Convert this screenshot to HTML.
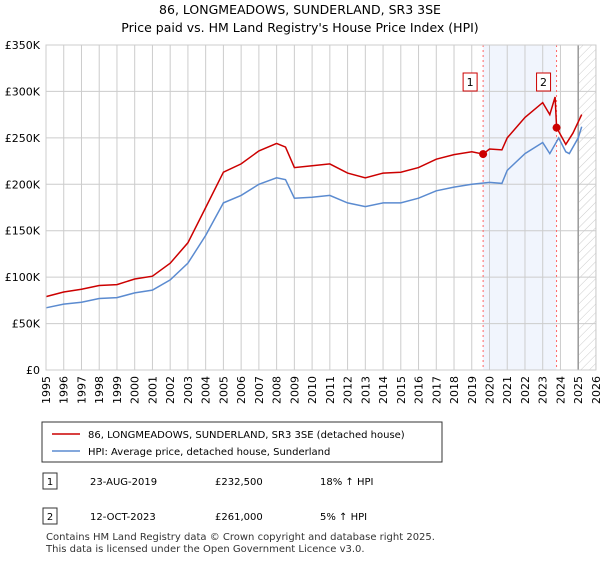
<!DOCTYPE html>
<html><head><meta charset="utf-8"><style>
body{margin:0;background:#fff;font-family:"Liberation Sans","DejaVu Sans",sans-serif;}
svg text{font-family:"DejaVu Sans","Liberation Sans",sans-serif;}
</style></head><body>
<svg width="600" height="560" xmlns="http://www.w3.org/2000/svg">
<defs><pattern id="hatch" width="6" height="6" patternUnits="userSpaceOnUse" patternTransform="rotate(45)"><line x1="0" y1="0" x2="0" y2="6" stroke="#ccc" stroke-width="1"/></pattern></defs>
<text x="300" y="14" text-anchor="middle" font-size="12.5">86, LONGMEADOWS, SUNDERLAND, SR3 3SE</text>
<text x="300" y="32" text-anchor="middle" font-size="12.5">Price paid vs. HM Land Registry's House Price Index (HPI)</text>
<g id="plot"></g>
<g id="legend">
<rect x="42" y="422" width="400" height="40" fill="#fff" stroke="#333"/>
<line x1="52" y1="434" x2="80" y2="434" stroke="#cc0000" stroke-width="1.5"/>
<text x="88" y="438" font-size="10">86, LONGMEADOWS, SUNDERLAND, SR3 3SE (detached house)</text>
<line x1="52" y1="451" x2="80" y2="451" stroke="#5b8bd0" stroke-width="1.5"/>
<text x="88" y="455" font-size="10">HPI: Average price, detached house, Sunderland</text>
</g>
<g font-size="10">
<rect x="43" y="473" width="14" height="16" fill="#fff" stroke="#333"/><text x="50" y="485" text-anchor="middle">1</text>
<text x="90" y="485">23-AUG-2019</text><text x="215" y="485">£232,500</text><text x="320" y="485">18% ↑ HPI</text>
<rect x="43" y="508" width="14" height="16" fill="#fff" stroke="#333"/><text x="50" y="520" text-anchor="middle">2</text>
<text x="90" y="520">12-OCT-2023</text><text x="215" y="520">£261,000</text><text x="320" y="520">5% ↑ HPI</text>
</g>
<text x="46" y="540" font-size="10" fill="#333">Contains HM Land Registry data © Crown copyright and database right 2025.</text>
<text x="46" y="552" font-size="10" fill="#333">This data is licensed under the Open Government Licence v3.0.</text>
</svg>
<script>
const yTicks=[0,50,100,150,200,250,300,350];
const yTickLabels=["£0","£50K","£100K","£150K","£200K","£250K","£300K","£350K"];
const years=[1995,1996,1997,1998,1999,2000,2001,2002,2003,2004,2005,2006,2007,2008,2009,2010,2011,2012,2013,2014,2015,2016,2017,2018,2019,2020,2021,2022,2023,2024,2025,2026];
const hpiT=[1995,1996,1997,1998,1999,2000,2001,2002,2003,2004,2005,2006,2007,2008,2008.5,2009,2010,2011,2012,2013,2014,2015,2016,2017,2018,2019,2020,2020.7,2021,2022,2023,2023.4,2023.9,2024.3,2024.5,2025,2025.2];
const hpiV=[67,71,73,77,78,83,86,97,115,145,180,188,200,207,205,185,186,188,180,176,180,180,185,193,197,200,202,201,215,233,245,233,250,235,233,250,262];
const priceT=[1995,1996,1997,1998,1999,2000,2001,2002,2003,2004,2005,2006,2007,2008,2008.5,2009,2010,2011,2012,2013,2014,2015,2016,2017,2018,2019,2019.64,2020,2020.7,2021,2022,2023,2023.4,2023.7,2023.78,2024.3,2024.7,2025.2];
const priceV=[79,84,87,91,92,98,101,115,137,175,213,222,236,244,240,218,220,222,212,207,212,213,218,227,232,235,232.5,238,237,250,272,288,275,294,261,243,255,275];
const saleT=[2019.64,2023.78];
const saleV=[232.5,261];
const saleLabels=["1","2"];
const X=y=>46+(y-1995)*17.74, Y=v=>370-v*325/350;
const NS="http://www.w3.org/2000/svg", g=document.getElementById('plot');
function mk(t,a){const e=document.createElementNS(NS,t);for(const k in a)e.setAttribute(k,a[k]);g.appendChild(e);return e;}
const sh=mk('rect',{x:X(saleT[0]),y:Y(350),width:X(saleT[1])-X(saleT[0]),height:Y(0)-Y(350),fill:'#eef3fc',opacity:0.8});


const hz=mk('rect',{x:X(2025),y:Y(350),width:X(2026)-X(2025),height:Y(0)-Y(350),fill:'url(#hatch)'});


years.forEach(yr=>{
 const l=mk('line',{x1:X(yr),x2:X(yr),y1:Y(350),y2:Y(0),stroke:'#ccc'});
 
 
 const t=mk('text',{x:0,y:0,'font-size':11,'text-anchor':'end',transform:`translate(${X(yr)+4},${Y(0)+6}) rotate(-90)`});
 t.textContent=yr;
 
 
});
yTicks.forEach((v,i)=>{
 const l=mk('line',{x1:X(1995),x2:X(2026),y1:Y(v),y2:Y(v),stroke:'#ccc'});
 
 
 const t=mk('text',{x:40,y:Y(v)+4,'font-size':11,'text-anchor':'end'});
 t.textContent=yTickLabels[i];
 
 
});
const nowL=mk('line',{x1:X(2025),x2:X(2025),y1:Y(350),y2:Y(0),stroke:'#999','stroke-width':1.5});


saleT.forEach((t,i)=>{
 const l=mk('line',{x1:X(t),x2:X(t),y1:Y(350),y2:Y(0),stroke:'#f66','stroke-dasharray':'2,3'});
 
 
});
const pl=(T,V)=>T.map((t,i)=>X(t).toFixed(1)+','+Y(V[i]).toFixed(1)).join(' ');
const hl=mk('polyline',{points:pl(hpiT,hpiV),fill:'none',stroke:'#5b8bd0','stroke-width':1.5});


const pr=mk('polyline',{points:pl(priceT,priceV),fill:'none',stroke:'#cc0000','stroke-width':1.5});


saleT.forEach((t,i)=>{
 const c=mk('circle',{cx:X(t),cy:Y(saleV[i]),r:4,fill:'#cc0000'});
 
 
 const b=mk('rect',{x:X(t)-20,y:73,width:14,height:18,fill:'#fff',stroke:'#cc0000'});
 
 
 const tx=mk('text',{x:X(t)-13,y:86,'font-size':11,'text-anchor':'middle'});
 tx.textContent=saleLabels[i];
 
 
});
const fr=mk('rect',{x:X(1995),y:Y(350),width:X(2026)-X(1995),height:Y(0)-Y(350),fill:'none',stroke:'#ccc'});


</script>
</body></html>
